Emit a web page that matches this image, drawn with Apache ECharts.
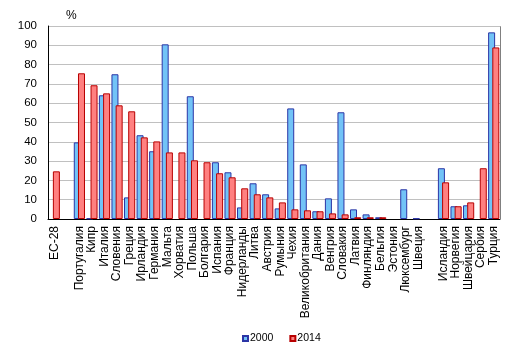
<!DOCTYPE html>
<html lang="ru">
<head>
    <meta charset="utf-8">
    <title>Chart</title>
    <script src="https://cdn.jsdelivr.net/npm/echarts@6/dist/echarts.min.js"></script>
    <style>
        html, body { margin: 0; padding: 0; background: #ffffff; }
        #main { width: 514px; height: 353px; }
    </style>
</head>
<body>
<div id="main"></div>
<script type="text/javascript">
    // categories ('' = empty spacer slot)
    const countries = ['EC-28', '', 'Португалия', 'Кипр', 'Италия', 'Словения', 'Греция', 'Ирландия',
        'Германия', 'Мальта', 'Хорватия', 'Польша', 'Болгария', 'Испания', 'Франция', 'Нидерланды',
        'Литва', 'Австрия', 'Румыния', 'Чехия', 'Великобритания', 'Дания', 'Венгрия', 'Словакия',
        'Латвия', 'Финляндия', 'Бельгия', 'Эстония', 'Люксембург', 'Швеция', '',
        'Исландия', 'Норвегия', 'Швейцария', 'Сербия', 'Турция'];

    const v2000 = [null, null, 39.7, 0.3, 64.1, 75, 11.2, 43.4,
        35.1, 90.5, null, 63.6, null, 29.4, 24.2, 6.0,
        18.5, 12.8, 5.5, 57.3, 28.3, 4.0, 10.7, 55.3,
        5.0, 2.4, 0.9, null, 15.4, 0.3, null,
        26.3, 6.6, 7.1, null, 96.7];

    const v2014 = [24.7, null, 75.5, 69.3, 65.1, 58.9, 55.8, 42.3,
        40.2, 34.5, 34.5, 30.4, 29.4, 23.7, 21.6, 15.9,
        12.8, 11.2, 8.6, 5.0, 4.5, 4.0, 2.9, 2.4,
        0.9, 0.9, 0.9, null, null, null, null,
        19.0, 6.6, 8.6, 26.3, 88.9];

    const yTicks = {min: 0, max: 100, interval: 10};

    const chart = echarts.init(document.getElementById('main'));
    const option = {
        animation: false,
        textStyle: {fontFamily: 'Liberation Sans, Arial, sans-serif'},
        title: {
            text: '%',
            left: 61,
            top: 5,
            textStyle: {fontSize: 12, fontWeight: 'normal', color: '#000'}
        },
        legend: {
            top: 328,
            left: 237,
            itemWidth: 5,
            itemHeight: 5,
            itemGap: 16,
            icon: 'rect',
            textStyle: {fontSize: 10.5, color: '#000', padding: [0, 0, 0, -3]},
            data: ['2000', '2014']
        },
        grid: {left: 48, right: 14, top: 26, bottom: 134, containLabel: false},
        xAxis: {
            type: 'category',
            data: countries,
            axisLine: {lineStyle: {color: '#000', width: 1}},
            axisTick: {show: false},
            axisLabel: {
                interval: 0,
                rotate: 90,
                fontSize: 12,
                color: '#000',
                margin: 7
            }
        },
        yAxis: {
            type: 'value',
            min: yTicks.min,
            max: yTicks.max,
            interval: yTicks.interval,
            axisLine: {show: true, lineStyle: {color: '#000'}},
            axisTick: {show: false},
            axisLabel: {fontSize: 11.5, color: '#000', margin: 11},
            splitLine: {lineStyle: {color: '#c0c0c0', width: 1}}
        },
        series: [
            {
                name: '2000',
                type: 'bar',
                data: v2000,
                barWidth: 7,
                barGap: '-40%',
                itemStyle: {color: '#72c3f7', borderColor: '#2b35a6', borderWidth: 1}
            },
            {
                name: '2014',
                type: 'bar',
                data: v2014,
                barWidth: 7,
                barGap: '-40%',
                itemStyle: {color: '#ff8080', borderColor: '#b80000', borderWidth: 1}
            }
        ],
        graphic: [{
            type: 'polyline',
            shape: {points: [[48, 26.5], [500.5, 26.5], [500.5, 219]]},
            style: {stroke: '#808080', lineWidth: 1, fill: null},
            silent: true
        }]
    };
    chart.setOption(option);
</script>
</body>
</html>
